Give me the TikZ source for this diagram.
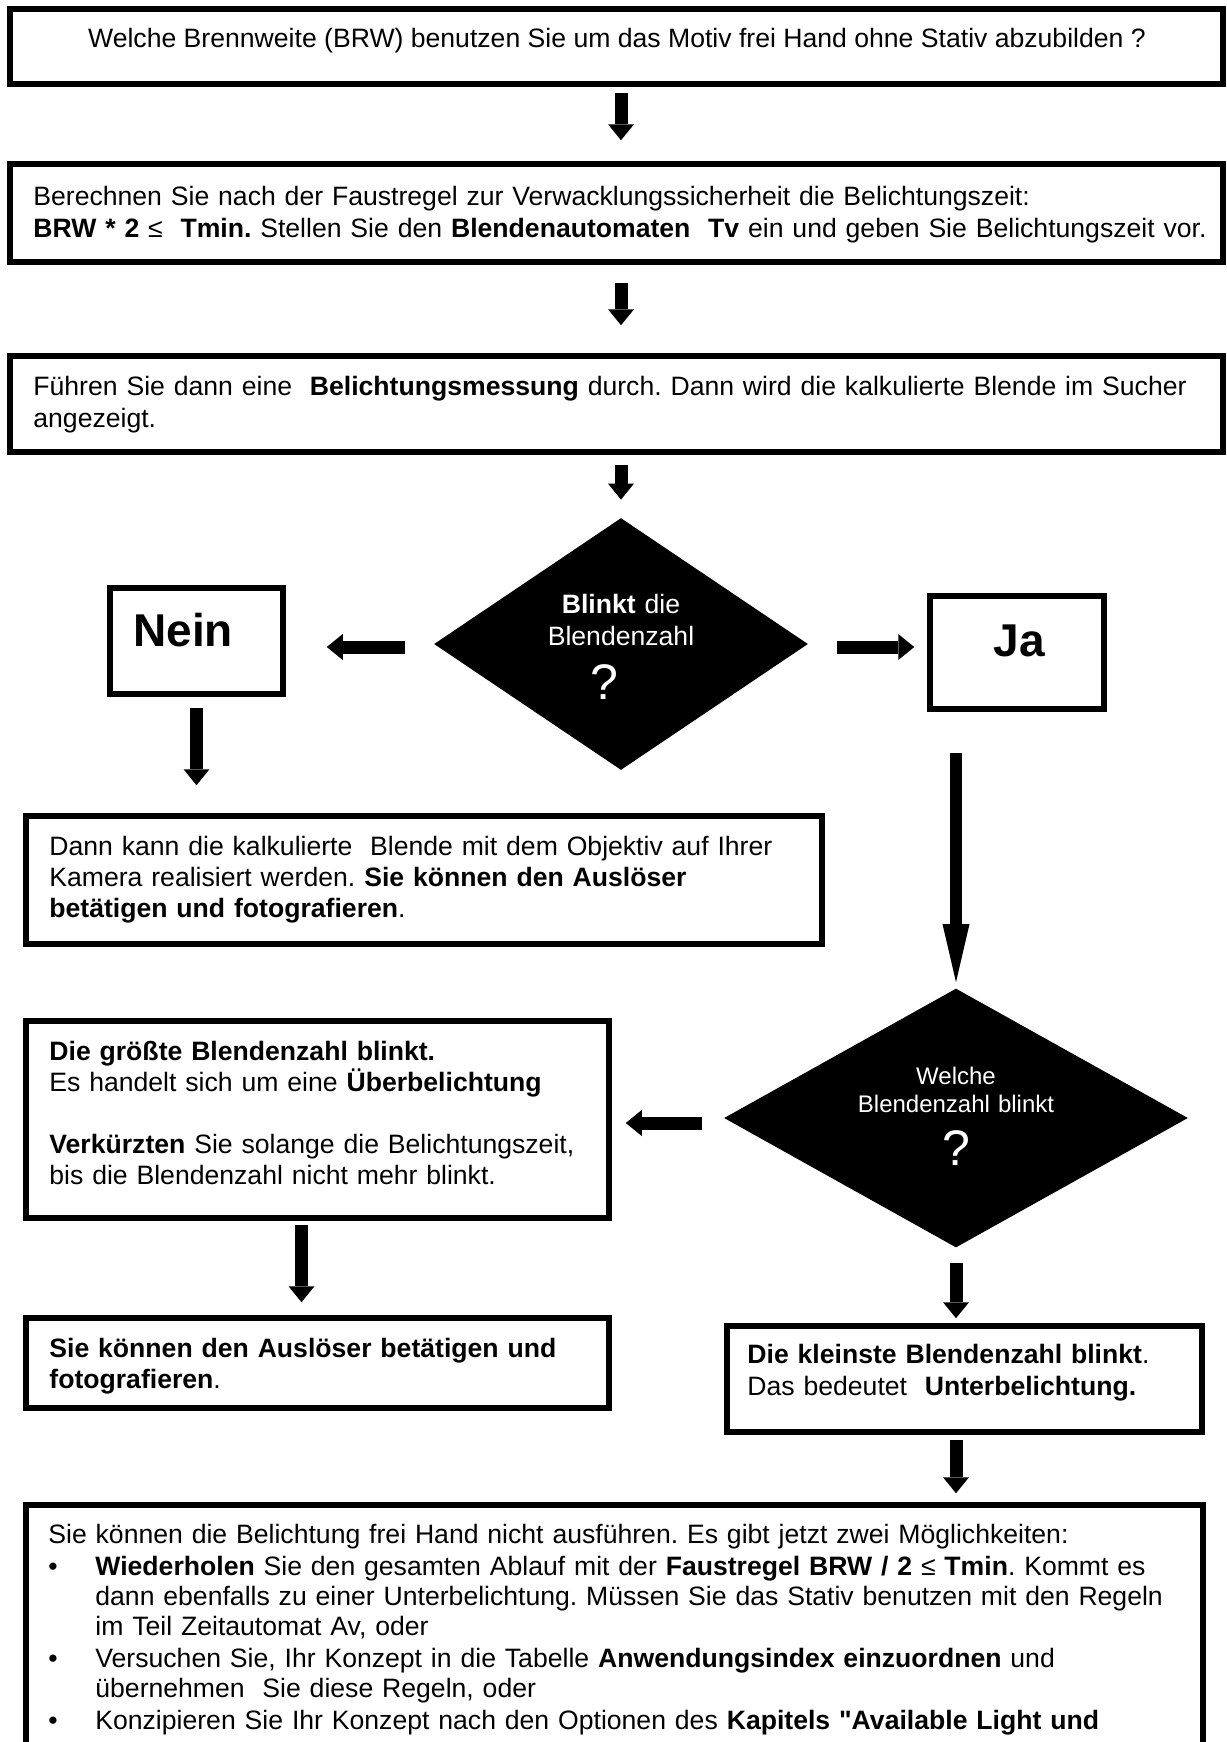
\documentclass[tikz,border=0pt]{standalone}
\usepackage{fontspec}
\setmainfont{Liberation Sans}
\usetikzlibrary{arrows.meta,shapes.geometric}
\frenchspacing

% font sizes (1 unit = 0.5pt)
\newcommand\fbody{\fontsize{13.3pt}{15.5pt}\selectfont}
\newcommand\fbodywide{\fontsize{13.3pt}{16pt}\selectfont}
\newcommand\flist{\fontsize{13.3pt}{15pt}\selectfont}
\newcommand\fdia{\fontsize{12pt}{14pt}\selectfont}
\newcommand\fbig{\fontsize{23pt}{27pt}\selectfont}
\newcommand\fquest{\fontsize{25pt}{30pt}\selectfont}

\tikzset{
  frame/.style={draw=black, line width=2.75pt, fill=white, inner sep=0pt},
  decision/.style={diamond, fill=black, inner sep=0pt},
  txt/.style={inner sep=0pt, anchor=base west, align=left, text width=590pt, font=\fbody},
  ctxt/.style={inner sep=0pt, anchor=base, align=center, text width=200pt, font=\fbody, text=white},
  blockarrow/.style={line width=6.5pt, -{Triangle[width=13pt,length=8pt,line width=0pt]}},
  longarrow/.style={line width=6pt, -{Triangle[width=13.5pt,length=29pt,line width=0pt]}},
}

\begin{document}
\begin{tikzpicture}[x=0.5pt,y=-0.5pt]
\fill[white] (0,0) rectangle (1227,1742);
\useasboundingbox (0,0) rectangle (1227,1742);
\clip (0,0) rectangle (1227,1742);

% boxes and decisions
\node[frame, minimum width=606.5pt, minimum height=37.5pt] (b1) at (616.5,46.5) {};
\node[frame, minimum width=606.5pt, minimum height=49pt] (b2) at (616.5,213) {};
\node[frame, minimum width=606.5pt, minimum height=48pt] (b3) at (616.5,404) {};
\node[decision, minimum width=187pt, minimum height=126pt] (d1) at (621,644) {};
\node[frame, minimum width=86.5pt, minimum height=53pt] (nein) at (196.5,641) {};
\node[frame, minimum width=87pt, minimum height=56.5pt] (ja) at (1017,652.5) {};
\node[frame, minimum width=398pt, minimum height=64pt] (dann) at (424,880) {};
\node[decision, minimum width=232pt, minimum height=129.5pt] (d2) at (956,1118) {};
\node[frame, minimum width=291.5pt, minimum height=98.5pt] (gross) at (317.5,1119.5) {};
\node[frame, minimum width=291.5pt, minimum height=45pt] (ausl) at (317.5,1363) {};
\node[frame, minimum width=237.5pt, minimum height=53pt] (klein) at (964.5,1379) {};
\node[frame, minimum width=588.5pt, minimum height=147.5pt] (unten) at (614.5,1652.5) {};

% texts
\node[inner sep=0pt, anchor=base, font=\fbody] (t1) at (617,47)
  {Welche Brennweite (BRW) benutzen Sie um das Motiv frei Hand ohne Stativ abzubilden ?};
\node[txt, font=\fbodywide] (t2) at (33,205)
  {Berechnen Sie nach der Faustregel zur Verwacklungssicherheit die Belichtungszeit:\\
   \textbf{BRW * 2} ≤\ \ \textbf{Tmin.} Stellen Sie den \textbf{Blendenautomaten\ \ Tv} ein und geben Sie Belichtungszeit vor.};
\node[txt, font=\fbodywide] (t3) at (33,395)
  {Führen Sie dann eine\ \ \textbf{Belichtungsmessung} durch. Dann wird die kalkulierte Blende im Sucher\\
   angezeigt.};
\node[ctxt, font=\fbodywide] (t4) at (621,613) {\textbf{Blinkt} die\\Blendenzahl};
\node[inner sep=0pt, anchor=base, font=\fquest, text=white] (q1) at (604,699) {?};
\node[inner sep=0pt, anchor=base west, font=\fbig\bfseries] (t5) at (133,646) {Nein};
\node[inner sep=0pt, anchor=base, font=\fbig\bfseries] (t6) at (1019,656) {Ja};
\node[txt] (t7) at (49,855)
  {Dann kann die kalkulierte\ \ Blende mit dem Objektiv auf Ihrer\\
   Kamera realisiert werden. \textbf{Sie können den Auslöser}\\
   \textbf{betätigen und fotografieren}.};
\node[ctxt, font=\fdia] (t8) at (956,1084) {Welche\\Blendenzahl blinkt};
\node[inner sep=0pt, anchor=base, font=\fquest, text=white] (q2) at (956,1165) {?};
\node[txt] (t9) at (49,1060)
  {\textbf{Die größte Blendenzahl blinkt.}\\
   Es handelt sich um eine \textbf{Überbelichtung}\\[15.5pt]
   \textbf{Verkürzten} Sie solange die Belichtungszeit,\\
   bis die Blendenzahl nicht mehr blinkt.};
\node[txt] (t10) at (49,1357)
  {\textbf{Sie können den Auslöser betätigen und}\\
   \textbf{fotografieren}.};
\node[txt, font=\fbodywide] (t11) at (747,1363)
  {\textbf{Die kleinste Blendenzahl blinkt}.\\
   Das bedeutet\ \ \textbf{Unterbelichtung.}};
\node[txt, font=\flist] (t12) at (48,1543)
  {Sie können die Belichtung frei Hand nicht ausführen. Es gibt jetzt zwei Möglichkeiten:\\[1pt]
   \makebox[23.5pt][l]{•}\textbf{Wiederholen} Sie den gesamten Ablauf mit der \textbf{Faustregel BRW / 2} ≤ \textbf{Tmin}. Kommt es\\
   \hspace*{23.5pt}dann ebenfalls zu einer Unterbelichtung. Müssen Sie das Stativ benutzen mit den Regeln\\
   \hspace*{23.5pt}im Teil Zeitautomat Av, oder\\[1pt]
   \makebox[23.5pt][l]{•}Versuchen Sie, Ihr Konzept in die Tabelle \textbf{Anwendungsindex einzuordnen} und\\
   \hspace*{23.5pt}übernehmen\ \ Sie diese Regeln, oder\\[1pt]
   \makebox[23.5pt][l]{•}Konzipieren Sie Ihr Konzept nach den Optionen des \textbf{Kapitels \textquotedbl Available Light und}};

% connectors
\draw[blockarrow, shorten <=3pt, shorten >=10.5pt] (b1.south -| d1.north) -- (b2.north -| d1.north);
\draw[blockarrow, shorten <=9pt, shorten >=14pt] (b2.south -| d1.north) -- (b3.north -| d1.north);
\draw[blockarrow, shorten <=5pt, shorten >=9pt] (b3.south -| d1.north) -- (d1.north);
\draw[blockarrow, shorten <=14.5pt, shorten >=20.5pt] ([yshift=-1.5pt]d1.west) -- ([yshift=-1.5pt]d1.west -| nein.east);
\draw[blockarrow, shorten <=14.5pt, shorten >=6.5pt] ([yshift=-1.5pt]d1.east) -- ([yshift=-1.5pt]d1.east -| ja.west);
\draw[blockarrow, shorten <=5.5pt, shorten >=14pt] (nein.south) -- (nein.south |- dann.north);
\draw[longarrow, shorten <=20.5pt, shorten >=3pt] (ja.south -| d2.north) -- (d2.north);
\draw[blockarrow, shorten <=11pt, shorten >=7pt] ([yshift=-2.5pt]d2.west) -- ([yshift=-2.5pt]d2.west -| gross.east);
\draw[blockarrow, shorten <=2pt, shorten >=6.5pt] ([xshift=-8pt]gross.south) -- ([xshift=-8pt]ausl.north);
\draw[blockarrow, shorten <=7.5pt, shorten >=2.5pt] (d2.south) -- (d2.south |- klein.north);
\draw[blockarrow, shorten <=2.5pt, shorten >=4.5pt] (klein.south -| d2.south) -- (d2.south |- unten.north);
\end{tikzpicture}
\end{document}
